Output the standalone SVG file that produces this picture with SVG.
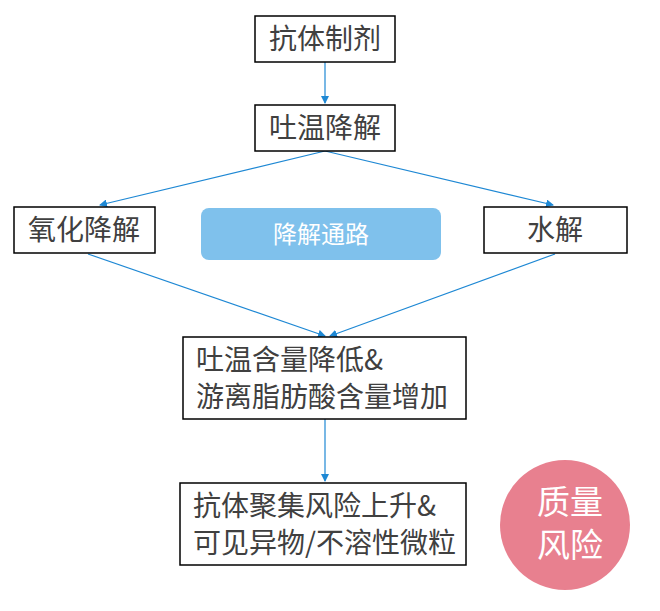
<svg xmlns="http://www.w3.org/2000/svg" width="660" height="611" viewBox="0 0 660 611">
<style>
.b{fill:#fff;stroke:#000;stroke-width:1.5}
.t{font-family:"Noto Sans CJK SC","Noto Sans",sans-serif;font-size:28px;fill:#404040}
.c{stroke:#1e88d4;stroke-width:1.2;fill:none;marker-end:url(#a)}
</style>
<defs><marker id="a" markerWidth="8" markerHeight="8" refX="7" refY="4" orient="auto" markerUnits="userSpaceOnUse"><path d="M0,0L8,4L0,8z" fill="#1e88d4"/></marker></defs>
<rect width="660" height="611" fill="#fff"/>
<g id="connectors">
<path class="c" d="M325,62V103"/>
<path class="c" d="M325,151L100,205"/>
<path class="c" d="M325,151L553,205"/>
<path class="c" d="M88,254L325,336"/>
<path class="c" d="M555,254L330,336"/>
<path class="c" d="M325,419V481"/>
</g>
<g id="n1"><rect class="b" x="255" y="16" width="140" height="46"/><text class="t" x="325" y="49" text-anchor="middle">抗体制剂</text></g>
<g id="n2"><rect class="b" x="255" y="105" width="140" height="46"/><text class="t" x="325" y="138" text-anchor="middle">吐温降解</text></g>
<g id="n3"><rect class="b" x="14" y="207" width="141" height="46"/><text class="t" x="84" y="240" text-anchor="middle">氧化降解</text></g>
<g id="n4"><rect class="b" x="484" y="207" width="143" height="46"/><text class="t" x="555" y="240" text-anchor="middle">水解</text></g>
<g id="n5"><rect x="201" y="208" width="240" height="52" rx="8" fill="#7fc1ec"/><text x="321" y="243" text-anchor="middle" style="font-family:'Noto Sans CJK SC',sans-serif;font-size:24px;fill:#fff">降解通路</text></g>
<g id="n6"><rect class="b" x="183" y="337" width="283" height="82"/><text class="t" x="196" y="370">吐温含量降低&amp;</text><text class="t" x="196" y="407">游离脂肪酸含量增加</text></g>
<g id="n7"><rect class="b" x="180" y="483" width="286" height="82"/><text class="t" x="193" y="516">抗体聚集风险上升&amp;</text><text class="t" x="193" y="553">可见异物/不溶性微粒</text></g>
<g id="n8"><circle cx="565" cy="525" r="65" fill="#e8808f"/><text x="570" y="514" text-anchor="middle" style="font-family:'Noto Sans CJK SC',sans-serif;font-size:33px;fill:#fff">质量</text><text x="570" y="557" text-anchor="middle" style="font-family:'Noto Sans CJK SC',sans-serif;font-size:33px;fill:#fff">风险</text></g>
</svg>
